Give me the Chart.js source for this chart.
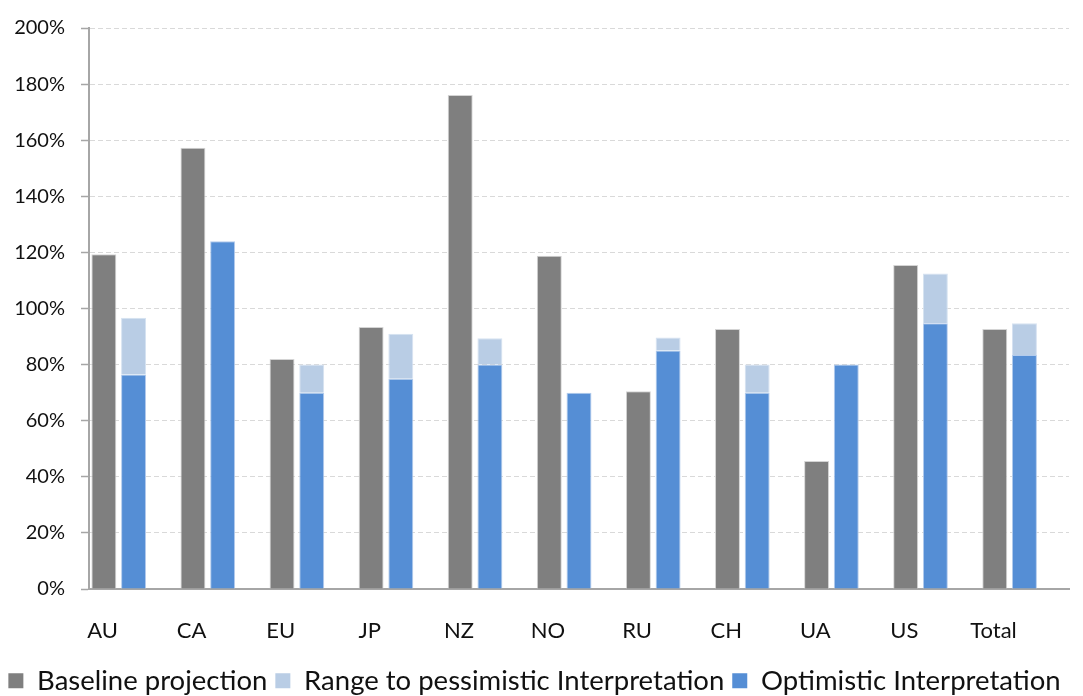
<!DOCTYPE html>
<html>
<head>
<meta charset="utf-8">
<script src="https://cdn.jsdelivr.net/npm/chart.js@4.4.1/dist/chart.umd.min.js"></script>
<style>
  html, body { margin: 0; padding: 0; background: #ffffff; }
  #wrap { width: 1083px; height: 696px; position: relative; }
</style>
</head>
<body>
<div id="wrap"><canvas id="chart" width="1083" height="696"></canvas></div>
<script>
// Categories (parties / regions)
const categories = ['AU', 'CA', 'EU', 'JP', 'NZ', 'NO', 'RU', 'CH', 'UA', 'US', 'Total'];

// Baseline projection, % of reference level
const baseline = [119.3, 157.3, 82.0, 93.4, 176.1, 118.8, 70.5, 92.7, 45.6, 115.5, 92.7];

// Optimistic interpretation, % of reference level
const optimistic = [76.5, 124.0, 70.0, 75.0, 80.0, 70.0, 85.0, 70.0, 80.0, 94.7, 83.4];

// Extra range up to the pessimistic interpretation (stacked on top of optimistic)
const rangeToPessimistic = [20.2, 0, 10.0, 16.0, 9.4, 0, 4.7, 10.0, 0, 17.8, 11.3];

// Empty third slot in each category group
const emptySlot = categories.map(() => 0);

// Y axis ticks
const yTicks = [0, 20, 40, 60, 80, 100, 120, 140, 160, 180, 200];

// Legend order: baseline, range, optimistic
const legendRank = { 0: 0, 2: 1, 1: 2 };

const FONT = 'Lato, "Open Sans", sans-serif';

new Chart(document.getElementById('chart'), {
  type: 'bar',
  data: {
    labels: categories,
    datasets: [
      {
        label: 'Baseline projection',
        data: baseline,
        backgroundColor: '#7f7f7f',
        borderColor: '#d4d4d4',
        borderWidth: 1,
        stack: 'base'
      },
      {
        label: 'Optimistic Interpretation',
        data: optimistic,
        backgroundColor: '#558ed5',
        borderColor: '#b3cbec',
        borderWidth: 1,
        stack: 'interp'
      },
      {
        label: 'Range to pessimistic Interpretation',
        data: rangeToPessimistic,
        backgroundColor: '#b9cde5',
        borderColor: '#d6e2f1',
        borderWidth: 1,
        stack: 'interp'
      },
      {
        label: '',
        data: emptySlot,
        backgroundColor: 'rgba(0,0,0,0)',
        borderWidth: 0,
        stack: 'empty'
      }
    ]
  },
  options: {
    responsive: false,
    animation: false,
    devicePixelRatio: 1,
    layout: { padding: { top: 27, right: 14, left: 0, bottom: -8.5 } },
    datasets: {
      bar: { categoryPercentage: 1.0, barPercentage: 0.84 }
    },
    scales: {
      x: {
        stacked: true,
        grid: { display: true, drawOnChartArea: false, drawTicks: false },
        border: { display: true, color: '#a6a6a6', width: 2 },
        ticks: {
          color: '#111111',
          font: { family: FONT, size: 22 },
          padding: 29,
          labelOffset: -31,
          maxRotation: 0,
          autoSkip: false
        },
        afterFit(scale) { scale.height = 70; }
      },
      y: {
        stacked: true,
        min: 0,
        max: 200,
        afterBuildTicks(scale) { scale.ticks = yTicks.map(v => ({ value: v })); },
        grid: {
          color: '#d9d9d9',
          lineWidth: 1,
          tickColor: '#a6a6a6',
          tickLength: 8,
          tickWidth: 1.5,
          tickBorderDash: []
        },
        // dashed grid lines; the axis line itself is drawn solid
        border: { display: true, color: '#a6a6a6', width: 2, dash: [5, 3] },
        ticks: {
          color: '#111111',
          font: { family: FONT, size: 20 },
          padding: 16,
          callback: (v) => v + '%'
        },
        afterFit(scale) { scale.width = 89; }
      }
    },
    plugins: {
      tooltip: { enabled: false },
      legend: {
        display: true,
        position: 'bottom',
        labels: {
          color: '#111111',
          font: { family: FONT, size: 27.5 },
          boxWidth: 15,
          boxHeight: 15,
          padding: 8,
          filter: (item) => item.datasetIndex !== 3,
          sort: (a, b) => legendRank[a.datasetIndex] - legendRank[b.datasetIndex],
          generateLabels(chart) {
            const items = Chart.defaults.plugins.legend.labels.generateLabels(chart);
            items.forEach(it => { it.lineWidth = 0; it.strokeStyle = 'rgba(0,0,0,0)'; });
            return items;
          }
        }
      }
    }
  }
});
</script>
</body>
</html>
